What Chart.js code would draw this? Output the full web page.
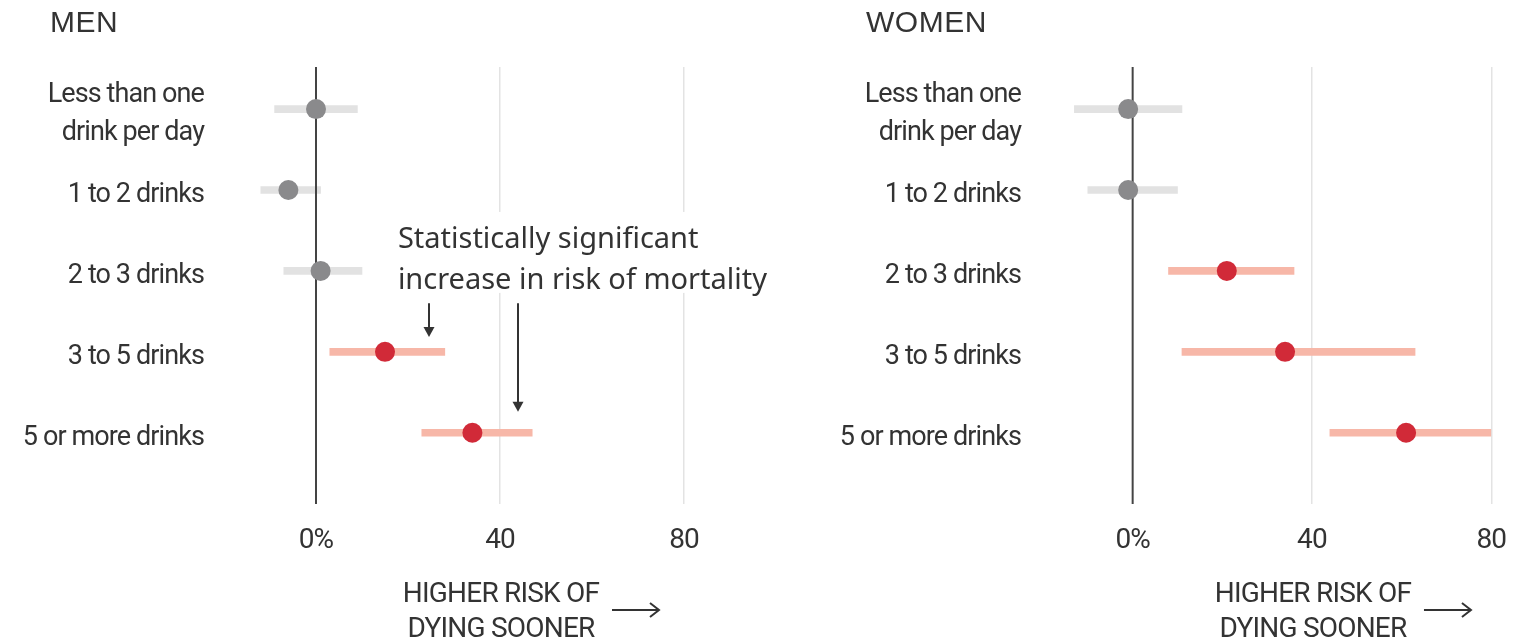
<!DOCTYPE html>
<html>
<head>
<meta charset="utf-8">
<script src="https://cdn.jsdelivr.net/npm/chart.js@4.4.1/dist/chart.umd.min.js"></script>
<style>
  html, body { margin: 0; padding: 0; background: #fff; }
  #wrap { position: relative; width: 1527px; height: 642px; overflow: hidden; }
  canvas { position: absolute; top: 0; }
</style>
</head>
<body>
<div id="wrap">
  <canvas id="men" width="800" height="642" style="left:0px;width:800px;height:642px"></canvas>
  <canvas id="women" width="711" height="642" style="left:816px;width:711px;height:642px"></canvas>
</div>
<script>
// Daily drinking level (rows, top to bottom)
const categories = [
  ['Less than one', 'drink per day'],
  '1 to 2 drinks',
  '2 to 3 drinks',
  '3 to 5 drinks',
  '5 or more drinks'
];

// Change in risk of mortality, % (estimate with confidence interval)
const menEstimate = [0, -6, 1, 15, 34];
const menLow      = [-9, -12, -7, 3, 23];
const menHigh     = [9, 1, 10, 28, 47];

const womenEstimate = [-1, -1, 21, 34, 61];
const womenLow      = [-13, -10, 8, 11, 44];
const womenHigh     = [11, 10, 36, 63, 80];

const xTicks = [0, 40, 80];
const xMin = -20, xMax = 80;
const yMin = -0.52, yMax = 4.88;

const TEXT = '#333333';
const GRAY_DOT = '#8a8a8c';
const GRAY_BAR = '#e2e2e2';
const RED_DOT = '#d12a38';
const RED_BAR = '#f7b7a8';

const NARROW = 'Roboto, "Liberation Sans", sans-serif';
const REGULAR = '"Liberation Sans", Arial, sans-serif';
const NOTE_FONT = '"Noto Sans", "Open Sans", sans-serif';
const TIGHT = '-0.9px';

// Tighter tracking for the axis labels drawn by the scales
const tracking = {
  id: 'tracking',
  beforeDraw(chart) {
    if ('letterSpacing' in chart.ctx) chart.ctx.letterSpacing = TIGHT;
  }
};

// Panel titles, axis caption and its arrow
const panelText = {
  id: 'panelText',
  afterDraw(chart, args, opts) {
    const ctx = chart.ctx;
    const xs = chart.scales.x;
    ctx.save();
    ctx.fillStyle = TEXT;
    ctx.textBaseline = 'alphabetic';
    if ('letterSpacing' in ctx) ctx.letterSpacing = '0.5px';
    ctx.font = '30px ' + REGULAR;
    ctx.textAlign = 'left';
    ctx.fillText(opts.title, 50, 32);

    const cx = xs.getPixelForValue(40) + 1;
    if ('letterSpacing' in ctx) ctx.letterSpacing = '-0.8px';
    ctx.font = '28px ' + NARROW;
    ctx.textAlign = 'center';
    ctx.fillText('HIGHER RISK OF', cx, 602);
    ctx.fillText('DYING SOONER', cx, 637);

    // right-pointing arrow
    const ay = 610, ax0 = cx + 111, ax1 = cx + 158;
    ctx.strokeStyle = TEXT;
    ctx.lineWidth = 2;
    ctx.beginPath();
    ctx.moveTo(ax0, ay);
    ctx.lineTo(ax1, ay);
    ctx.moveTo(ax1 - 9, ay - 7);
    ctx.lineTo(ax1, ay);
    ctx.lineTo(ax1 - 9, ay + 7);
    ctx.stroke();
    ctx.restore();
  }
};

// Callout about statistically significant rows
const note = {
  id: 'note',
  afterDatasetsDraw(chart, args, opts) {
    if (!opts || !opts.lines) return;
    const ctx = chart.ctx;
    const xs = chart.scales.x, ys = chart.scales.y;
    ctx.save();
    if ('letterSpacing' in ctx) ctx.letterSpacing = '0px';
    ctx.font = '29px ' + NOTE_FONT;
    const tx = xs.getPixelForValue(opts.x);
    const b1 = ys.getPixelForValue(opts.lineY[0]);
    const b2 = ys.getPixelForValue(opts.lineY[1]);
    const w = Math.max(...opts.lines.map(l => ctx.measureText(l).width));
    ctx.fillStyle = '#ffffff';
    ctx.fillRect(tx - 2, b1 - 36, w + 6, b2 - b1 + 40);
    ctx.fillStyle = TEXT;
    ctx.textAlign = 'left';
    ctx.textBaseline = 'alphabetic';
    ctx.fillText(opts.lines[0], tx, b1);
    ctx.fillText(opts.lines[1], tx, b2);

    ctx.strokeStyle = TEXT;
    ctx.lineWidth = 2;
    opts.arrows.forEach(a => {
      const px = Math.round(xs.getPixelForValue(a.x));
      const top = ys.getPixelForValue(a.from);
      const tip = ys.getPixelForValue(a.to);
      ctx.beginPath();
      ctx.moveTo(px, top);
      ctx.lineTo(px, tip - 8);
      ctx.stroke();
      ctx.beginPath();
      ctx.moveTo(px - 5.5, tip - 10);
      ctx.lineTo(px + 5.5, tip - 10);
      ctx.lineTo(px, tip);
      ctx.closePath();
      ctx.fillStyle = TEXT;
      ctx.fill();
    });
    ctx.restore();
  }
};

function makePanel(canvasId, cfg) {
  const sig = cfg.low.map(v => v > 0);
  return new Chart(document.getElementById(canvasId), {
    type: 'bar',
    data: {
      datasets: [
        {
          type: 'bar',
          label: 'range',
          data: categories.map((c, i) => ({ x: [cfg.low[i], cfg.high[i]], y: i })),
          backgroundColor: sig.map(s => s ? RED_BAR : GRAY_BAR),
          borderWidth: 0,
          barThickness: 7,
          order: 3
        },
        {
          type: 'line',
          label: 'zero',
          data: [{ x: 0, y: yMin }, { x: 0, y: yMax }],
          borderColor: '#444444',
          borderWidth: 2,
          pointRadius: 0,
          fill: false,
          order: 2
        },
        {
          type: 'scatter',
          label: 'estimate',
          data: categories.map((c, i) => ({ x: cfg.est[i], y: i })),
          pointRadius: 10,
          pointHoverRadius: 10,
          pointBorderWidth: 0,
          pointBackgroundColor: sig.map(s => s ? RED_DOT : GRAY_DOT),
          order: 1
        }
      ]
    },
    options: {
      responsive: false,
      animation: false,
      indexAxis: 'y',
      events: [],
      layout: { padding: { top: 67, left: 0, right: cfg.padRight, bottom: 0 } },
      plugins: {
        legend: { display: false },
        tooltip: { enabled: false },
        panelText: { title: cfg.title },
        note: cfg.note || {}
      },
      scales: {
        x: {
          type: 'linear',
          min: xMin,
          max: xMax,
          offset: false,
          afterBuildTicks: s => { s.ticks = xTicks.map(v => ({ value: v })); },
          afterFit: s => { s.height = 138; },
          border: { display: false },
          grid: {
            offset: false,
            drawTicks: false,
            color: c => (c.tick && c.tick.value === 0) ? 'rgba(0,0,0,0)' : '#e3e3e3',
            lineWidth: 1.5
          },
          ticks: {
            padding: 20,
            color: TEXT,
            font: { family: NARROW, size: 28 },
            maxRotation: 0,
            autoSkip: false,
            callback: v => v === 0 ? '0%' : String(v)
          }
        },
        y: {
          type: 'linear',
          reverse: true,
          min: yMin,
          max: yMax,
          offset: false,
          afterBuildTicks: s => { s.ticks = categories.map((c, i) => ({ value: i })); },
          afterFit: s => { s.width = cfg.axisWidth; },
          border: { display: false },
          grid: { display: false, drawTicks: false, offset: false },
          ticks: {
            padding: cfg.tickPad,
            labelOffset: 5,
            color: TEXT,
            font: { family: NARROW, size: 27, lineHeight: 1.4 },
            autoSkip: false,
            callback: v => categories[v]
          }
        }
      }
    },
    plugins: [tracking, panelText, note]
  });
}

makePanel('men', {
  title: 'MEN',
  est: menEstimate, low: menLow, high: menHigh,
  axisWidth: 224, tickPad: 20, padRight: 116,
  note: {
    lines: ['Statistically significant', 'increase in risk of mortality'],
    x: 17.8,
    lineY: [1.716, 2.222],
    arrows: [
      { x: 24.6, from: 2.4, to: 2.815 },
      { x: 44, from: 2.4, to: 3.74 }
    ]
  }
});

makePanel('women', {
  title: 'WOMEN',
  est: womenEstimate, low: womenLow, high: womenHigh,
  axisWidth: 227, tickPad: 22, padRight: 25
});
</script>
</body>
</html>
